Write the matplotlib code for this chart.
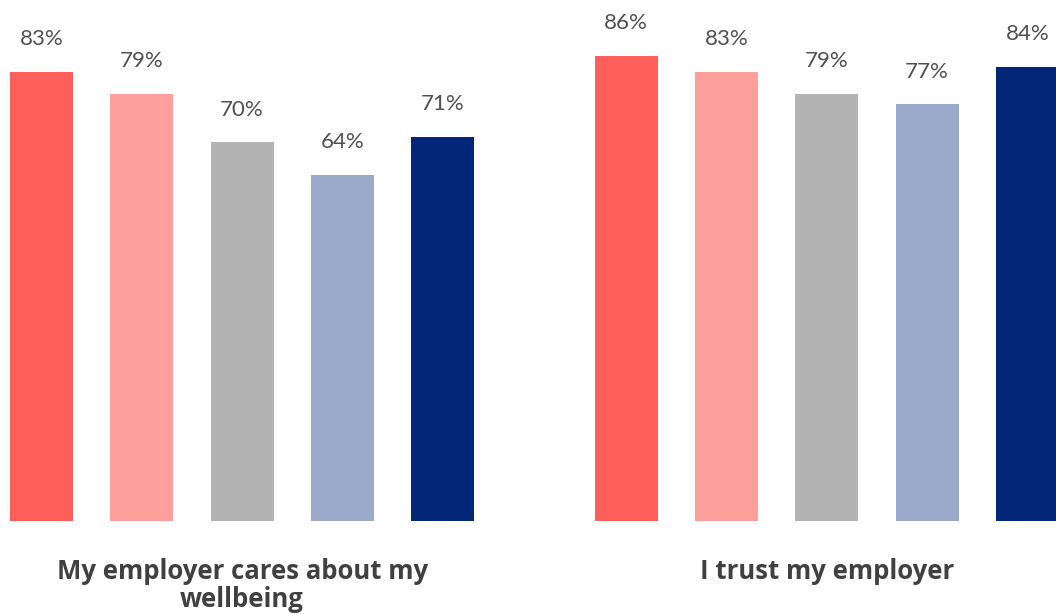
import matplotlib
matplotlib.use("Agg")
import matplotlib.pyplot as plt

categories = ["My employer cares about my\nwellbeing", "I trust my employer"]
cares = [83, 79, 70, 64, 71]
trust = [86, 83, 79, 77, 84]
colors = ["#FF5F5A", "#FF9F9C", "#B3B3B3", "#9AA9C9", "#022779"]

group_gap = 5.83
bar_w = 0.63

fig = plt.figure(figsize=(10.56, 6.14), dpi=100)
ax = fig.add_axes([0, 93 / 614, 1, 521 / 614])

for g, vals in enumerate([cares, trust]):
    xs = [g * group_gap + i for i in range(len(vals))]
    ax.bar(xs, vals, width=bar_w, color=colors)
    for x, v in zip(xs, vals):
        ax.text(x, v + 4.9, f"{v}%", ha="center", va="baseline",
                fontsize=16, color="#505050", family="Lato")
    ax.text(g * group_gap + 2, -6.9, categories[g], ha="center", va="top",
            fontsize=18.5, color="#404040", family="Open Sans", fontweight="bold",
            linespacing=1.05, clip_on=False)

ax.set_xlim(-41.5 / 100.3, (1056 - 41.5) / 100.3)
ax.set_ylim(0, 521 / 5.41)
ax.axis("off")

fig.savefig("out.png", dpi=100)
